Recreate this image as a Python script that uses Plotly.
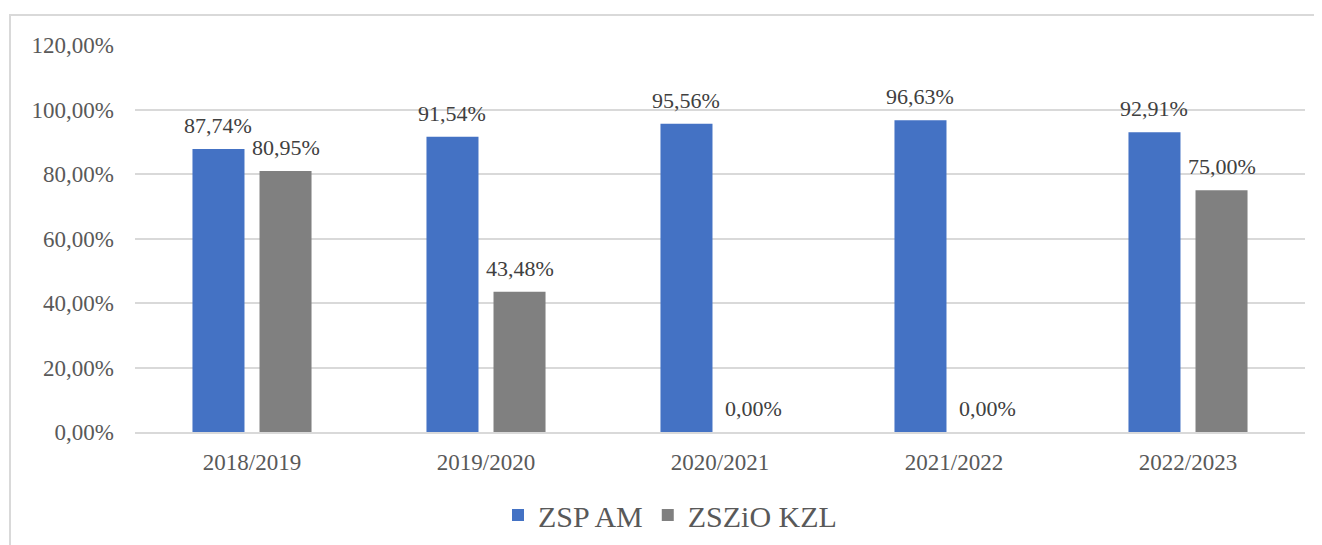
import plotly.graph_objects as go

categories = ["2018/2019", "2019/2020", "2020/2021", "2021/2022", "2022/2023"]
zsp_am = [87.74, 91.54, 95.56, 96.63, 92.91]
zszio_kzl = [80.95, 43.48, 0.00, 0.00, 75.00]
series_names = ["ZSP AM", "ZSZiO KZL"]
series_colors = ["#4472C4", "#808080"]
y_ticks = [0, 20, 40, 60, 80, 100, 120]


def fmt(v):
    return f"{v:.2f}".replace(".", ",") + "%"


FONT = "Liberation Serif"
TXT = "#595959"

# page body has an 8px offset in the browser
OFF = 8
W, H = 1322 - OFF, 545 - OFF
L, R, T, B = 135 - OFF, 17, 45 - OFF, 113
pw, ph = W - L - R, H - T - B
BARGAP, GROUPGAP = 0.427, 0.224
slot_px = pw / len(categories) * (1 - BARGAP) / 2


def px_to_paper_x(px):
    return (px - OFF - L) / pw


def px_to_paper_y(py):
    return (H - B - (py - OFF)) / ph


fig = go.Figure()
series = [zsp_am, zszio_kzl]
for i, (name, vals, color) in enumerate(zip(series_names, series, series_colors)):
    fig.add_trace(go.Bar(
        x=categories, y=vals, name=name,
        marker=dict(color=color, line=dict(width=0)),
        cliponaxis=False,
    ))
    shift = (i - 0.5) * slot_px
    for c, v in zip(categories, vals):
        fig.add_annotation(x=c, y=v, xref="x", yref="y", text=fmt(v), showarrow=False,
                           xshift=shift, yshift=9, yanchor="bottom", xanchor="center",
                           font=dict(family=FONT, size=22, color="#404040"))

fig.add_shape(type="rect", xref="paper", yref="paper",
              x0=px_to_paper_x(10), x1=px_to_paper_x(1340),
              y0=px_to_paper_y(560), y1=px_to_paper_y(15),
              line=dict(color="#D9D9D9", width=2), layer="below")

fig.update_layout(
    width=W, height=H,
    margin=dict(l=L, r=R, t=T, b=B, autoexpand=False),
    plot_bgcolor="white", paper_bgcolor="white",
    barmode="group", bargap=BARGAP, bargroupgap=GROUPGAP,
    font=dict(family=FONT, color=TXT),
    xaxis=dict(showgrid=False, showline=True, linecolor="#D9D9D9", linewidth=2,
               tickfont=dict(family=FONT, size=23, color=TXT), ticks="", ticklabelstandoff=8,
               automargin=False),
    yaxis=dict(range=[0, 120], tickvals=y_ticks, ticktext=[fmt(v) for v in y_ticks],
               showgrid=True, gridcolor="#D9D9D9", gridwidth=2, zeroline=False,
               tickfont=dict(family=FONT, size=23, color=TXT), ticks="", ticklabelstandoff=20,
               automargin=False),
    showlegend=True,
    legend=dict(orientation="h", x=px_to_paper_x(670), xanchor="center", y=px_to_paper_y(515),
                yanchor="middle", font=dict(family="Liberation Serif, serif", size=30, color=TXT),
                itemwidth=30, traceorder="normal"),
)

fig.write_html("out.html")
